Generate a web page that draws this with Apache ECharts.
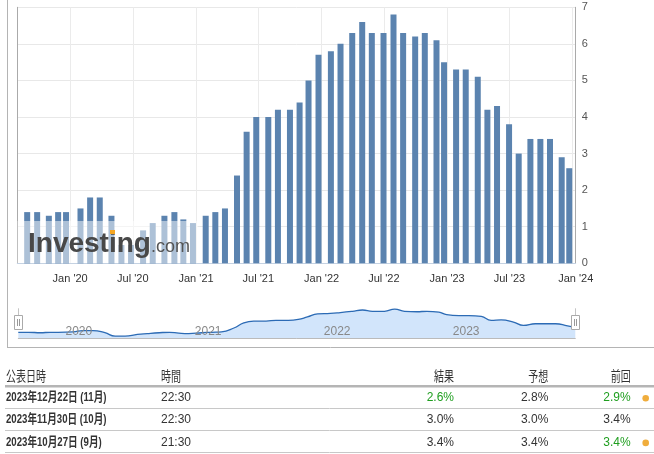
<!DOCTYPE html>
<html>
<head>
<meta charset="utf-8">
<script src="https://cdn.jsdelivr.net/npm/echarts@6/dist/echarts.min.js"></script>
<style>
html,body{margin:0;padding:0;background:#fff;}
#c{width:654px;height:454px;}
</style>
</head>
<body>
<div id="c"></div>
<script>
// ---- data ----
const releaseDates = [
  '2019-08-29','2019-09-27','2019-10-31','2019-11-27','2019-12-20',
  '2020-01-31','2020-02-28','2020-03-27','2020-04-30','2020-05-29','2020-06-26',
  '2020-07-31','2020-08-28','2020-10-01','2020-10-30','2020-11-25','2020-12-23',
  '2021-01-29','2021-02-26','2021-03-26','2021-04-30','2021-05-28','2021-06-25',
  '2021-07-30','2021-08-27','2021-10-01','2021-10-29','2021-11-24','2021-12-23',
  '2022-01-28','2022-02-25','2022-03-31','2022-04-29','2022-05-27','2022-06-30',
  '2022-07-29','2022-08-26','2022-09-30','2022-10-28','2022-12-01','2022-12-23',
  '2023-01-27','2023-02-24','2023-03-31','2023-04-28','2023-05-26','2023-06-30',
  '2023-07-28','2023-08-31','2023-09-29','2023-10-27','2023-11-30','2023-12-22'
];
const values = [
  1.4,1.4,1.3,1.4,1.4,
  1.5,1.8,1.8,1.3,0.5,0.5,
  0.9,1.1,1.3,1.4,1.2,1.1,
  1.3,1.4,1.5,2.4,3.6,4.0,
  4.0,4.2,4.2,4.4,5.0,5.7,
  5.8,6.0,6.3,6.6,6.3,6.3,
  6.8,6.3,6.2,6.3,6.1,5.5,
  5.3,5.3,5.1,4.2,4.3,3.8,
  3.0,3.4,3.4,3.4,2.9,2.6
];
const axisStart = '2019-08-09';
const axisEnd = '2024-01-01';
const yTickMax = 7;
const monthNames = ['Jan','Feb','Mar','Apr','May','Jun','Jul','Aug','Sep','Oct','Nov','Dec'];

const tableHeader = ['公表日時','時間','結果','予想','前回'];
const tableDates  = ['2023年12月22日 (11月)','2023年11月30日 (10月)','2023年10月27日 (9月)'];
const tableTimes  = ['22:30','22:30','21:30'];
const tableActual = ['2.6%','3.0%','3.4%'];
const tableForecast = ['2.8%','3.0%','3.4%'];
const tablePrevious = ['2.9%','3.4%','3.4%'];
const actualHighlighted = [true,false,false];
const previousRevised = [true,false,true];

// ---- chart ----
const DAY = 86400000;
const FONT = "'Liberation Sans', Arial, 'Noto Sans CJK JP', sans-serif";
const barData = releaseDates.map((d,i)=>[d, values[i]]);

const chart = echarts.init(document.getElementById('c'), null, {renderer:'canvas'});

const graphics = [];
// container borders
graphics.push({type:'line', shape:{x1:7.5,y1:0,x2:7.5,y2:347.5}, style:{stroke:'#b4b4b4',lineWidth:1}, z:50});
graphics.push({type:'line', shape:{x1:7,y1:347.5,x2:654,y2:347.5}, style:{stroke:'#b4b4b4',lineWidth:1}, z:50});
// watermark overlay
graphics.push({type:'rect', shape:{x:17.5,y:221,width:180.5,height:42}, style:{fill:'rgba(255,255,255,0.5)'}, z:100});
graphics.push({type:'text', x:28, y:244.5, style:{text:'Investing', fontFamily:FONT, fontSize:28, fontWeight:'bold', fill:'#484848', align:'left', verticalAlign:'middle'}, z:101});
graphics.push({type:'text', x:151, y:247, style:{text:'.com', fontFamily:FONT, fontSize:18, fill:'#555', align:'left', verticalAlign:'middle'}, z:101});
graphics.push({type:'rect', shape:{x:110,y:230,width:5,height:4}, style:{fill:'#f5a623'}, z:102});

// navigator handles
const navTop = 308.3, navBottom = 338.3, navL = 18.3, navR = 575.3;
[navL, navR].forEach(function(hx){
  graphics.push({type:'line', shape:{x1:Math.round(hx)+0.5,y1:navTop,x2:Math.round(hx)+0.5,y2:315}, style:{stroke:'#c4c4c4',lineWidth:1}, z:60});
  graphics.push({type:'rect', shape:{x:Math.round(hx)-3.5,y:315.5,width:8,height:14}, style:{fill:'#fff',stroke:'#aaa',lineWidth:1}, z:61});
  graphics.push({type:'line', shape:{x1:Math.round(hx)-1+0.5,y1:319,x2:Math.round(hx)-1+0.5,y2:326}, style:{stroke:'#999',lineWidth:1}, z:62});
  graphics.push({type:'line', shape:{x1:Math.round(hx)+1+0.5,y1:319,x2:Math.round(hx)+1+0.5,y2:326}, style:{stroke:'#999',lineWidth:1}, z:62});
});

// table
const colX = [6, 161, 454, 548.3, 630.7];
const colAlign = ['left','left','right','right','right'];
const headerY = 377.7;
const rowY = [397.7, 419.5, 442.3];
const rowLineY = [408.5, 430.5, 452.5];
tableHeader.forEach(function(h,i){
  graphics.push({type:'text', x:colX[i], y:headerY, scaleX:0.74, style:{text:h, fontFamily:FONT, fontSize:13.5, fill:'#333', align:colAlign[i], verticalAlign:'middle'}});
});
graphics.push({type:'line', shape:{x1:5,y1:386.3,x2:654,y2:386.3}, style:{stroke:'#b5b5b5',lineWidth:2.4}});
const GREEN = '#1f9e1f';
for (let r=0;r<3;r++){
  const y = rowY[r];
  graphics.push({type:'text', x:colX[0], y:y, scaleX:0.74, style:{text:tableDates[r], fontFamily:FONT, fontSize:13, fontWeight:'bold', fill:'#333', align:'left', verticalAlign:'middle'}});
  graphics.push({type:'text', x:colX[1], y:y, style:{text:tableTimes[r], fontFamily:FONT, fontSize:12, fill:'#333', align:'left', verticalAlign:'middle'}});
  graphics.push({type:'text', x:colX[2], y:y, style:{text:tableActual[r], fontFamily:FONT, fontSize:12, fill: actualHighlighted[r]?GREEN:'#333', align:'right', verticalAlign:'middle'}});
  graphics.push({type:'text', x:colX[3], y:y, style:{text:tableForecast[r], fontFamily:FONT, fontSize:12, fill:'#333', align:'right', verticalAlign:'middle'}});
  graphics.push({type:'text', x:colX[4], y:y, style:{text:tablePrevious[r], fontFamily:FONT, fontSize:12, fill: previousRevised[r]?GREEN:'#333', align:'right', verticalAlign:'middle'}});
  if (previousRevised[r]) {
    graphics.push({type:'circle', shape:{cx:645.7, cy:y+0.6, r:3.3}, style:{fill:'#f0ad3c'}});
  }
  graphics.push({type:'line', shape:{x1:5,y1:rowLineY[r],x2:654,y2:rowLineY[r]}, style:{stroke:'#c8c8c8',lineWidth:1}});
}

const navYearLabel = function(v){ return String(new Date(v).getFullYear()); };

const option = {
  animation: false,
  textStyle: {fontFamily: FONT},
  grid: [
    {left:17.3, right:78.3, top:7.3, bottom:190.7},
    {left:navL, right:654-navR, top:navTop, bottom:454-navBottom}
  ],
  xAxis: [
    {
      type:'time', gridIndex:0, min:axisStart, max:axisEnd,
      minInterval:181*DAY, maxInterval:184*DAY,
      axisLine:{show:true, lineStyle:{color:'#c5d2e2', width:1}},
      axisTick:{show:false},
      axisLabel:{color:'#333', fontSize:11, margin:10, showMaxLabel:true, hideOverlap:false,
        formatter:function(v){ const d=new Date(v); return monthNames[d.getMonth()]+" '"+String(d.getFullYear()).slice(2); }},
      splitLine:{show:true, lineStyle:{color:'#ebebeb', width:1}}
    },
    {
      type:'time', gridIndex:1, position:'bottom', min:'dataMin', max:'dataMax', z:20,
      minInterval:360*DAY,
      axisLine:{show:true, lineStyle:{color:'#bbb', width:1}},
      axisTick:{show:false},
      axisLabel:{inside:true, color:'#888', fontSize:12, margin:1, align:'left', padding:[0,0,0,3],
        showMinLabel:false, showMaxLabel:false, hideOverlap:false, formatter:navYearLabel},
      splitLine:{show:false}
    },
    {
      type:'time', gridIndex:1, position:'bottom', min:'dataMin', max:'dataMax', z:0,
      minInterval:360*DAY,
      axisLine:{show:false}, axisTick:{show:false}, axisLabel:{show:false},
      splitLine:{show:true, lineStyle:{color:'#e6e6e6', width:1}}
    }
  ],
  yAxis: [
    {
      type:'value', gridIndex:0, position:'right', min:0, max:yTickMax, interval:1,
      axisLine:{show:true, lineStyle:{color:'#aaa'}},
      axisTick:{show:false},
      axisLabel:{color:'#555', fontSize:11, margin:6},
      splitLine:{show:true, lineStyle:{color:'#e8e8e8'}}
    },
    {
      type:'value', gridIndex:0, position:'left', min:0, max:yTickMax,
      axisLine:{show:true, lineStyle:{color:'#aaa'}},
      axisTick:{show:false}, axisLabel:{show:false}, splitLine:{show:false}
    },
    {type:'value', gridIndex:1, min:0, max:yTickMax, show:false}
  ],
  series: [
    {type:'bar', xAxisIndex:0, yAxisIndex:0, data:barData, barWidth:6, itemStyle:{color:'#5b83af'}},
    {type:'line', xAxisIndex:1, yAxisIndex:2, data:barData, smooth:0.5, symbol:'none', z:2,
     lineStyle:{color:'#2c6bb5', width:1.3}, areaStyle:{color:'#d2e5fb', opacity:1}}
  ],
  graphic: graphics
};
chart.setOption(option);
</script>
</body>
</html>
